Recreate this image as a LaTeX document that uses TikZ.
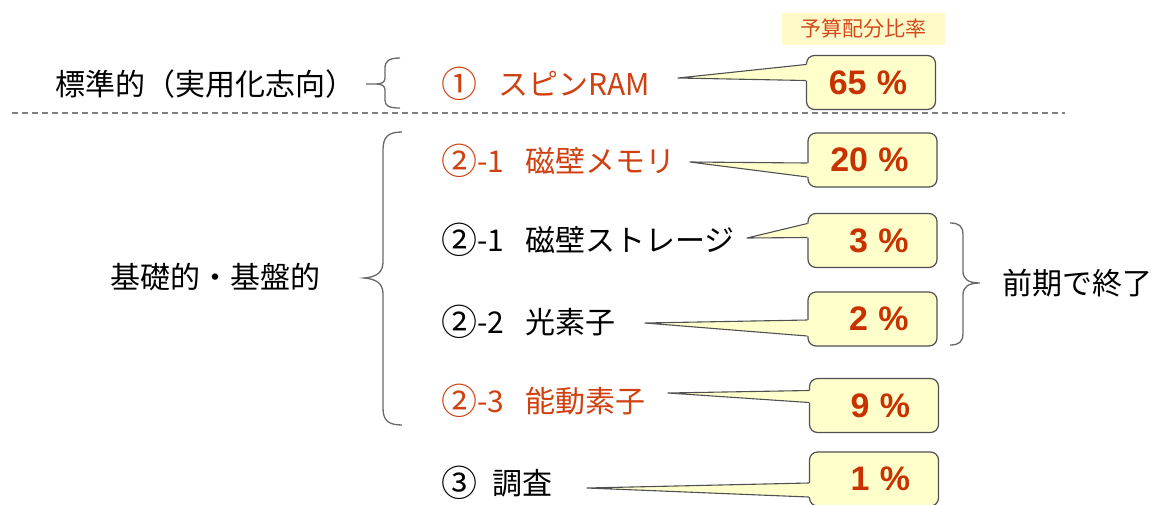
\documentclass[tikz,border=0pt]{standalone}
\usepackage{fontspec}
\usepackage{graphicx}
\setmainfont{Noto Sans CJK JP}
\newfontfamily\pctfont{Liberation Sans}
\usetikzlibrary{calc}
\definecolor{itemred}{RGB}{208,64,16}
\definecolor{pctred}{RGB}{200,50,0}
\definecolor{callfill}{RGB}{255,255,204}
\definecolor{callline}{RGB}{80,80,80}
\definecolor{bracegray}{RGB}{105,105,105}
\definecolor{labelfill}{RGB}{255,250,200}
\definecolor{labelred}{RGB}{210,74,30}
\newcommand\pct[1]{\makebox[72pt][r]{#1\hspace{0.3em}\%}}
\newcommand\cnum[1]{\raisebox{-0.07em}{\scalebox{1.2}{#1}}}
\newcommand\callwedge[4]{%
  \fill[callfill] (#1) -- ($(#2.west)+(0,#3)$) -- ($(#2.west)+(3,#3)$) -- ($(#2.west)+(3,#4)$) -- ($(#2.west)+(0,#4)$) -- cycle;
  \draw[wedgeline] ($(#2.west)+(0,#3)$) -- (#1) -- ($(#2.west)+(0,#4)$);}
\tikzset{
  pbox/.style={draw=callline, line width=1.2, fill=callfill, rounded corners=8,
    minimum width=129, minimum height=54, inner xsep=0, inner ysep=0,
    text=pctred, font=\pctfont\bfseries\fontsize{34}{38}\selectfont},
  wedgeline/.style={draw=callline, line width=1.1, line join=round},
  item/.style={anchor=west, inner sep=0, font=\fontsize{30}{36}\selectfont},
  reditem/.style={item, text=itemred},
  side/.style={anchor=west, inner sep=0, font=\fontsize{30}{36}\selectfont},
  bracestyle/.style={draw=bracegray, line width=1.3},
  toplabel/.style={fill=labelfill, minimum width=163, minimum height=32, inner sep=0,
    text=labelred, font=\fontsize{21}{24}\selectfont},
  sepline/.style={draw=gray, line width=1.6, dash pattern=on 6 off 4}
}
\begin{document}
\begin{tikzpicture}[x=1pt, y=-1pt]
\useasboundingbox (0,0) rectangle (1173,504);
\clip (0,0) rectangle (1173,504);

% header label
\node[toplabel] (hdr) at (863,29) {予算配分比率};

% separator
\draw[sepline] (12,113) -- (1065,113);

% left labels
\node[side] (std) at (55,84) {標準的（実用化志向）};
\node[side] (base) at (110,277) {基礎的・基盤的};
\node[side] (early) at (1002,283) {前期で終了};

% braces
\draw[bracestyle] (400,58) .. controls (389,58) and (385,61) .. (385,68) -- (385,78)
  .. controls (385,82) and (382,84) .. (376,84) -- (366,84) -- (376,84)
  .. controls (382,84) and (385,86) .. (385,90) -- (385,100)
  .. controls (385,106) and (389,108) .. (400,108);
\draw[bracestyle] (402,132) .. controls (388,132) and (383,137) .. (383,150) -- (383,262)
  .. controls (383,272) and (377,277) .. (364,278)
  .. controls (377,279) and (383,284) .. (383,294) -- (383,408)
  .. controls (383,420) and (388,425) .. (402,425);
\draw[bracestyle] (950,223) .. controls (959,223) and (963,226) .. (963,235) -- (963,271)
  .. controls (963,279) and (968,283) .. (980,283)
  .. controls (968,283) and (963,287) .. (963,295) -- (963,333)
  .. controls (963,342) and (959,345) .. (950,345);

% items
\node[reditem] (i1) at (441,84) {\cnum{①}\hspace{0.7em}スピンRAM};
\node[reditem] (i2) at (441,161) {\cnum{②}-1\hspace{0.7em}磁壁メモリ};
\node[item] (i3) at (441,240) {\cnum{②}-1\hspace{0.7em}磁壁ストレージ};
\node[item] (i4) at (441,322) {\cnum{②}-2\hspace{0.7em}光素子};
\node[reditem] (i5) at (441,401) {\cnum{②}-3\hspace{0.7em}能動素子};
\node[item] (i6) at (441,483) {\cnum{③}\hspace{0.5em}調査};

% callout boxes
\node[pbox] (p1) at (871,82.5) {\pct{65}};
\node[pbox] (p2) at (872.5,160) {\pct{20}};
\node[pbox] (p3) at (872.5,240.5) {\pct{3}};
\node[pbox] (p4) at (872.5,319) {\pct{2}};
\node[pbox] (p5) at (874,405.5) {\pct{9}};
\node[pbox] (p6) at (874,479) {\pct{1}};

% pointer tips
\coordinate (t1) at (678,78);
\coordinate (t2) at (690,162);
\coordinate (t3) at (747,238);
\coordinate (t4) at (645,323);
\coordinate (t5) at (668,393);
\coordinate (t6) at (587,488);

\callwedge{t1}{p1}{-18}{-2}
\callwedge{t2}{p2}{3}{17}
\callwedge{t3}{p3}{-17}{-3}
\callwedge{t4}{p4}{1}{17}
\callwedge{t5}{p5}{-15}{-3}
\callwedge{t6}{p6}{4}{18}
\end{tikzpicture}
\end{document}
